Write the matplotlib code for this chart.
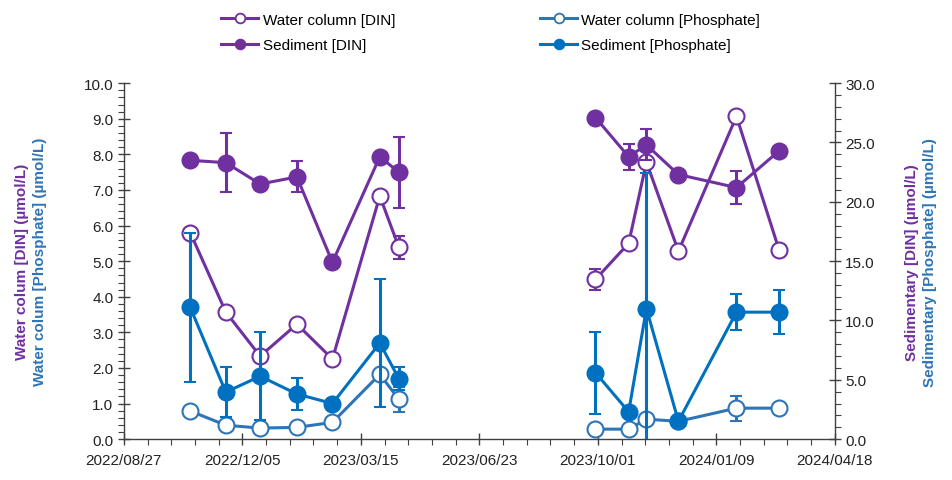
import numpy as np
import pandas as pd
import matplotlib
matplotlib.use("Agg")
import matplotlib.pyplot as plt
import matplotlib.dates as mdates
from matplotlib.lines import Line2D
from matplotlib.ticker import MultipleLocator, FixedLocator

plt.rcParams["font.family"] = ["Liberation Sans", "DejaVu Sans"]

# sampling dates (two campaigns)
dates = pd.to_datetime([
    "2022-10-22", "2022-11-21", "2022-12-20", "2023-01-20", "2023-02-19", "2023-03-31", "2023-04-16",
    "2023-09-29", "2023-10-27", "2023-11-11", "2023-12-08", "2024-01-26", "2024-03-02",
])
campaign_split = 7

water_din = [5.80, 3.57, 2.33, 3.23, 2.25, 6.83, 5.39, 4.49, 5.50, 7.78, 5.28, 9.07, 5.31]
water_din_err = [0, 0, 0, 0, 0, 0, 0.33, 0.30, 0, 0, 0, 0, 0]
water_po4 = [0.79, 0.39, 0.31, 0.33, 0.47, 1.82, 1.12, 0.28, 0.28, 0.56, 0.50, 0.87, 0.87]
water_po4_err = [0, 0, 0, 0, 0, 0, 0.35, 0, 0, 0, 0, 0.35, 0]

sed_din = [23.5, 23.3, 21.5, 22.1, 14.9, 23.8, 22.5, 27.1, 23.8, 24.8, 22.3, 21.2, 24.3]
sed_din_err = [0, 2.5, 0, 1.3, 0, 0, 3.0, 0, 1.1, 1.3, 0, 1.4, 0]
sed_po4 = [11.1, 3.96, 5.3, 3.8, 3.0, 8.1, 5.1, 5.6, 2.3, 11.0, 1.5, 10.7, 10.7]
sed_po4_err = [6.3, 2.1, 3.7, 1.35, 0, 5.4, 1.0, 3.45, 0, 11.4, 0, 1.5, 1.85]

purple = "#7030A0"
blue = "#0070C0"
light_blue = "#2E75B6"

fig = plt.figure(figsize=(9.53, 4.81), dpi=100)
ax = fig.add_axes([0.130, 0.085, 0.746, 0.740])
ax2 = ax.twinx()


def draw(axis, y, err, color, filled, label):
    for sl in (slice(0, campaign_split), slice(campaign_split, None)):
        axis.errorbar(dates[sl], np.array(y)[sl], yerr=np.array(err)[sl],
                      color=color, lw=2.2, elinewidth=2.2, capsize=4, capthick=2.2,
                      marker="o", ms=11.5, mec=color, mew=1.5,
                      mfc=color if filled else "white", zorder=3)
    # legend entry: line with marker only
    return Line2D([], [], color=color, lw=2.2, marker="o", ms=7, mec=color, mew=1.3,
                  mfc=color if filled else "white", label=label)


h1 = draw(ax, water_din, water_din_err, purple, False, "Water column [DIN]")
h3 = draw(ax, water_po4, water_po4_err, light_blue, False, "Water column [Phosphate]")
h2 = draw(ax2, sed_din, sed_din_err, purple, True, "Sediment [DIN]")
h4 = draw(ax2, sed_po4, sed_po4_err, blue, True, "Sediment [Phosphate]")

# axes ranges and ticks
start = pd.Timestamp("2022-08-27")
major = pd.date_range(start, periods=7, freq="100D")
minor = pd.date_range(start, periods=31, freq="20D")
ax.set_xlim(mdates.date2num(major[0]), mdates.date2num(major[-1]))
ax.xaxis.set_major_locator(FixedLocator(mdates.date2num(major)))
ax.xaxis.set_minor_locator(FixedLocator(mdates.date2num(minor)))
ax.xaxis.set_major_formatter(mdates.DateFormatter("%Y/%m/%d"))

ax.set_ylim(0, 10)
ax.yaxis.set_major_locator(MultipleLocator(1))
ax.yaxis.set_minor_locator(MultipleLocator(0.2))
ax.yaxis.set_major_formatter(lambda v, p: f"{v:.1f}")
ax2.set_ylim(0, 30)
ax2.yaxis.set_major_locator(MultipleLocator(5))
ax2.yaxis.set_minor_locator(MultipleLocator(1))
ax2.yaxis.set_major_formatter(lambda v, p: f"{v:.1f}")

axis_col = "#404040"
for a in (ax, ax2):
    a.spines["top"].set_visible(False)
    for s in ("left", "right", "bottom"):
        a.spines[s].set_color(axis_col)
        a.spines[s].set_linewidth(1.0)
    a.tick_params(which="major", direction="inout", length=8, width=1.0, color=axis_col,
                  labelsize=11, labelcolor="#222222")
    a.tick_params(which="minor", direction="out", length=4, width=0.8, color=axis_col)
ax.spines["right"].set_visible(False)
ax2.spines["left"].set_visible(False)
ax2.spines["bottom"].set_visible(False)
ax.tick_params(axis="x", pad=6)

# two-coloured axis titles
fig.text(0.023, 0.455, "Water colum [DIN] (µmol/L)", rotation=90, color=purple,
         fontsize=11, fontweight="bold", ha="center", va="center")
fig.text(0.042, 0.455, "Water colum [Phosphate] (µmol/L)", rotation=90, color=light_blue,
         fontsize=11, fontweight="bold", ha="center", va="center")
fig.text(0.957, 0.455, "Sedimentary [DIN] (µmol/L)", rotation=90, color=purple,
         fontsize=11, fontweight="bold", ha="center", va="center")
fig.text(0.976, 0.455, "Sedimentary [Phosphate] (µmol/L)", rotation=90, color=light_blue,
         fontsize=11, fontweight="bold", ha="center", va="center")

fig.legend(handles=[h1, h2, h3, h4], ncol=2, frameon=False, loc="upper center",
           bbox_to_anchor=(0.515, 1.0), fontsize=11, columnspacing=9.5, handlelength=2.4,
           handletextpad=0.3, labelspacing=0.75)

fig.savefig("out.png", dpi=100)
